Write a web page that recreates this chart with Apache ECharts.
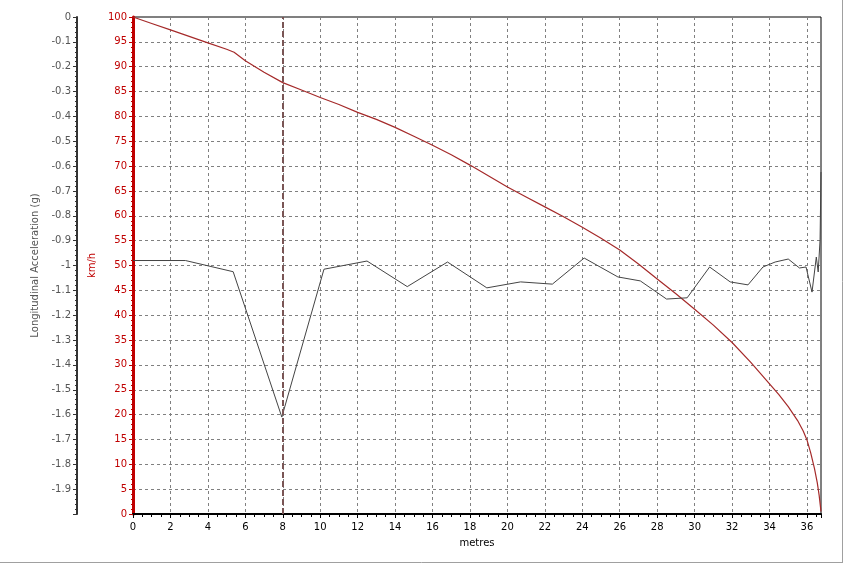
<!DOCTYPE html>
<html><head><meta charset="utf-8">
<script src="https://cdn.jsdelivr.net/npm/echarts@6/dist/echarts.min.js"></script>
<style>html,body{margin:0;padding:0;background:#fff}#c{width:846px;height:564px}</style>
</head><body><div id="c"></div>
<script>
// Speed (km/h) vs distance (m)
const speedDist = [0,1,2,3,4,5,5.4,6,7,8,9,10,11,12,13,14,15,16,17,18,19,20,21,22,23,24,25,26,27,28,29,30,31,32,33,34,34.5,35,35.5,35.8,36,36.2,36.4,36.55,36.65,36.75];
const speedVals = [100,98.7,97.4,96.1,94.8,93.5,92.9,91.2,88.9,86.8,85.3,83.8,82.4,80.8,79.4,77.8,76.0,74.2,72.3,70.2,68.0,65.8,63.8,61.8,59.8,57.7,55.5,53.1,50.3,47.3,44.3,41.2,38.0,34.5,30.5,26.2,24.0,21.6,18.8,16.7,14.9,12.3,9.2,6.3,3.8,0.5];
// Longitudinal acceleration (g) vs distance (m)
const accDist = [0,2.8,5.35,7.95,10.2,12.5,14.65,16.8,18.9,20.7,22.4,24.1,25.9,27.1,28.5,29.6,30.8,31.9,32.85,33.65,34.3,35.0,35.6,35.95,36.27,36.5,36.6,36.7,36.75];
const accVals = [-0.98,-0.98,-1.025,-1.61,-1.015,-0.982,-1.085,-0.986,-1.09,-1.066,-1.075,-0.97,-1.046,-1.062,-1.135,-1.13,-1.006,-1.066,-1.078,-1.006,-0.986,-0.974,-1.01,-1.006,-1.107,-0.966,-1.026,-0.897,-0.624];
const cursorAt = 8;
const xTitle = 'metres';
const speedTitle = 'km/h';
const accTitle = 'Longitudinal Acceleration (g)';

const FONT = 'DejaVu Sans';
const chart = echarts.init(document.getElementById('c'));
chart.setOption({
  animation: false,
  backgroundColor: '#fff',
  grid: {left: 133, top: 17, right: 25, bottom: 50, show: true, borderColor: '#000', borderWidth: 1, backgroundColor: 'transparent'},
  xAxis: {
    type: 'value', min: 0, max: 36.75, interval: 2,
    name: xTitle, nameLocation: 'middle', nameGap: 24,
    nameTextStyle: {color: '#000', fontFamily: FONT, fontSize: 10},
    axisLine: {lineStyle: {color: '#000', width: 2}},
    axisTick: {show: true, length: 4, lineStyle: {color: '#000'}},
    minorTick: {show: true, splitNumber: 4, length: 3, lineStyle: {color: '#000'}},
    axisLabel: {color: '#000', fontFamily: FONT, fontSize: 10, margin: 8, showMaxLabel: false},
    splitLine: {show: true, lineStyle: {color: '#808080', type: [3, 3], width: 1}}
  },
  yAxis: [
    {
      type: 'value', min: 0, max: 100, interval: 5, position: 'left',
      name: speedTitle, nameLocation: 'middle', nameGap: 30,
      nameTextStyle: {color: '#c00000', fontFamily: FONT, fontSize: 10},
      axisLine: {show: true, lineStyle: {color: '#c00000', width: 3}},
      axisTick: {show: true, length: 4, lineStyle: {color: '#c00000'}},
      minorTick: {show: true, splitNumber: 5, length: 2, lineStyle: {color: '#c00000'}},
      axisLabel: {color: '#c00000', fontFamily: FONT, fontSize: 10, margin: 6},
      splitLine: {show: true, lineStyle: {color: '#808080', type: [3, 3], width: 1}}
    },
    {
      type: 'value', min: -2, max: 0, interval: 0.1, position: 'left', offset: 56,
      name: accTitle, nameLocation: 'middle', nameGap: 30,
      nameTextStyle: {color: '#555', fontFamily: FONT, fontSize: 10},
      axisLine: {show: true, lineStyle: {color: '#333', width: 2}},
      axisTick: {show: true, length: 4, lineStyle: {color: '#333'}},
      minorTick: {show: true, splitNumber: 5, length: 2, lineStyle: {color: '#333'}},
      axisLabel: {color: '#555', fontFamily: FONT, fontSize: 10, margin: 6,
        formatter: v => (Math.abs(v + 2) < 1e-9 ? '' : String(Math.round(v * 10) / 10))},
      splitLine: {show: false}
    }
  ],
  series: [
    {
      type: 'line', yAxisIndex: 0, symbol: 'none', smooth: false,
      data: speedDist.map((d, i) => [d, speedVals[i]]),
      lineStyle: {color: '#a52a2a', width: 1.2},
      markLine: {
        silent: true, symbol: 'none', label: {show: false},
        lineStyle: {color: '#7a5555', type: [6, 3], width: 2},
        data: [{xAxis: cursorAt}]
      },
      z: 3
    },
    {
      type: 'line', yAxisIndex: 1, symbol: 'none',
      data: accDist.map((d, i) => [d, accVals[i]]),
      lineStyle: {color: '#444', width: 1},
      z: 4
    }
  ],
  graphic: [
    {type: 'line', shape: {x1: 0, y1: 562.5, x2: 843, y2: 562.5}, style: {stroke: '#a0a0a0', lineWidth: 1}},
    {type: 'line', shape: {x1: 842.5, y1: 0, x2: 842.5, y2: 563}, style: {stroke: '#a0a0a0', lineWidth: 1}}
  ]
});
</script></body></html>
